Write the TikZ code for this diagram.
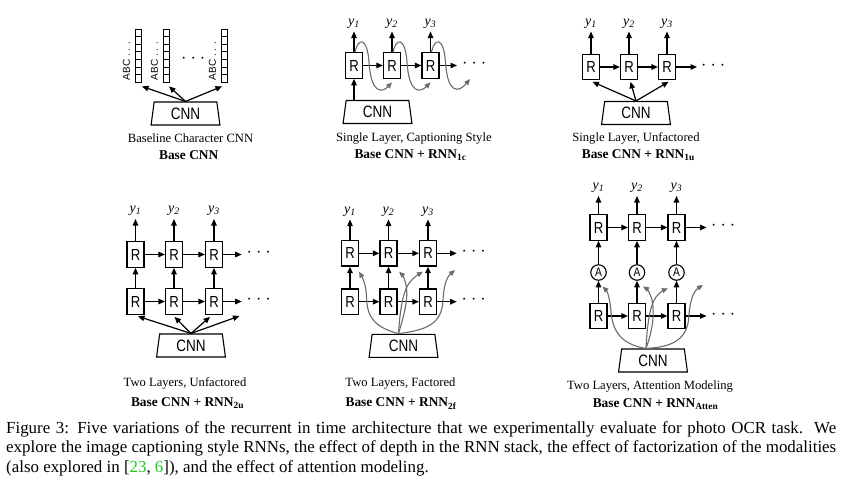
\documentclass[tikz,border=0pt]{standalone}
\usepackage{fontspec}
\setmainfont{Liberation Serif}
\setsansfont{Liberation Sans}
\usetikzlibrary{arrows.meta,shapes.geometric,calc}
\definecolor{refgreen}{RGB}{30,200,30}
\newcommand{\narrowtxt}[1]{\scalebox{0.82}[1]{#1}}
\newcommand{\ylab}[1]{\textit{y}\textsubscript{\textit{#1}}}
\begin{document}
\begin{tikzpicture}[x=1pt,y=-1pt,
  blkarrow/.style={line width=1.2pt, -{Triangle[length=6.5pt,width=5.5pt]}},
  grayarrow/.style={line width=1.1pt, black!58, -{Triangle[length=6pt,width=5pt]}},
  rbox/.style={draw, line width=1.2pt, minimum width=17pt, minimum height=25.5pt, inner sep=0pt, font=\sffamily\fontsize{16}{16}\selectfont},
  attnode/.style={draw, circle, line width=1.1pt, minimum size=15.5pt, inner sep=0pt, font=\sffamily\fontsize{12.5}{12.5}\selectfont},
  cnnbox/.style={draw, trapezium, trapezium angle=83, trapezium stretches=true, minimum width=69pt, minimum height=23pt, line width=1.1pt, inner sep=0pt, font=\sffamily\fontsize{16.5}{16.5}\selectfont},
  ylabnode/.style={inner sep=0pt, anchor=south, font=\fontsize{14}{14}\selectfont},
  dotsnode/.style={inner sep=0pt, anchor=west, font=\fontsize{16}{16}\selectfont},
  captxt/.style={inner sep=0pt, font=\fontsize{12.6}{14}\selectfont},
  captxtb/.style={inner sep=0pt, font=\bfseries\fontsize{13.4}{15}\selectfont},
  abclab/.style={rotate=90, inner sep=0pt, font=\sffamily\fontsize{10}{10}\selectfont},
]
\useasboundingbox[fill=white] (0,0) rectangle (845,491);

% ---------------- Panel 1: Baseline Character CNN
\foreach \cx/\nm in {138.5/c1, 166.5/c2, 224.5/c3} {
  \node[inner sep=0pt, minimum width=5.5pt, minimum height=53.2pt] (\nm) at (\cx, 55.6) {};
  \foreach \k in {0,...,6} \draw[line width=0.9pt] (\cx-2.75, 29+\k*7.6) rectangle ++(5.5,7.6);
  \node[abclab] (\nm lab) at (\cx-12, 61) {ABC . . .};
}
\node[dotsnode] (p1dots) at (181,60) {· · ·};
\node[cnnbox] (cnn1) at (185.5,113.5) {\narrowtxt{CNN}};
\draw[blkarrow] (cnn1.north) -- ($(c1.south)+(3.5,4)$);
\draw[blkarrow] (cnn1.north) -- ($(c2.south)+(2.5,4)$);
\draw[blkarrow] (cnn1.north) -- ($(c3.south)+(-2.5,4)$);
\node[captxt] (cap1) at (190.5,138) {Baseline Character CNN};
\node[captxtb] (capb1) at (188.7,155) {Base CNN};

% ---------------- Panel 2: Captioning style
\foreach \x/\i in {354/1, 392/2, 430.5/3} {
  \node[rbox] (r2\i) at (\x,65.5) {\narrowtxt{R}};
  \node[ylabnode] (y2\i) at (\x,28.5) {\ylab{\i}};
  \draw[blkarrow, shorten >=3pt] (r2\i.north) -- (y2\i.south);
}
\draw[blkarrow] (r21) -- (r22);
\draw[blkarrow] (r22) -- (r23);
\coordinate (e2) at (457,65.5);
\draw[blkarrow] (r23) -- (e2);
\node[dotsnode] (d2) at (462,65.5) {· · ·};
\node[cnnbox] (cnn2) at (377.5,112) {\narrowtxt{CNN}};
\draw[blkarrow] (cnn2.north -| r21.south) -- (r21.south);
\foreach \x/\b in {354/r22, 392/r23} {
  \draw[grayarrow] (\x+1,52) .. controls (\x+4,38) and (\x+13,36) .. (\x+15,62)
     .. controls (\x+17,94) and (\x+28,93) .. ($(\b.south)+(0,3.5)$);
}
\coordinate (f2) at (470,79);
\draw[grayarrow] (431.5,52) .. controls (434.5,38) and (443.5,36) .. (445.5,62)
     .. controls (447.5,94) and (458.5,93) .. (f2);
\node[captxt] (cap2) at (413.8,138) {Single Layer, Captioning Style};
\node[captxtb] (capb2) at (410.5,155) {Base CNN + RNN\textsubscript{1c}};

% ---------------- Panel 3: Single layer, unfactored
\foreach \x/\i in {591/1, 629/2, 667/3} {
  \node[rbox] (r3\i) at (\x,67) {\narrowtxt{R}};
  \node[ylabnode] (y3\i) at (\x,28.5) {\ylab{\i}};
  \draw[blkarrow, shorten >=3pt] (r3\i.north) -- (y3\i.south);
}
\draw[blkarrow] (r31) -- (r32);
\draw[blkarrow] (r32) -- (r33);
\coordinate (e3) at (697,67);
\draw[blkarrow] (r33) -- (e3);
\node[dotsnode] (d3) at (701,67) {· · ·};
\node[cnnbox] (cnn3) at (636,113) {\narrowtxt{CNN}};
\foreach \i in {1,2,3} \draw[blkarrow] (cnn3.north) -- ($(r3\i.south)+(1.5,1.5)$);
\node[captxt] (cap3) at (636,138) {Single Layer, Unfactored};
\node[captxtb] (capb3) at (638.3,155) {Base CNN + RNN\textsubscript{1u}};

% ---------------- Panel 4: Two layers, unfactored
\foreach \x/\i in {135.5/1, 174/2, 214/3} {
  \node[rbox] (t4\i) at (\x,254.5) {\narrowtxt{R}};
  \node[rbox] (b4\i) at (\x,301.5) {\narrowtxt{R}};
  \node[ylabnode] (y4\i) at (\x,216) {\ylab{\i}};
  \draw[blkarrow, shorten >=3pt] (t4\i.north) -- (y4\i.south);
  \draw[blkarrow] (b4\i.north) -- (t4\i.south);
}
\draw[blkarrow] (t41) -- (t42);
\draw[blkarrow] (t42) -- (t43);
\draw[blkarrow] (b41) -- (b42);
\draw[blkarrow] (b42) -- (b43);
\coordinate (e4t) at (241.7,254.5);
\coordinate (e4b) at (241.7,301.5);
\draw[blkarrow] (t43) -- (e4t);
\draw[blkarrow] (b43) -- (e4b);
\node[dotsnode] (d4t) at (246.5,254.5) {· · ·};
\node[dotsnode] (d4b) at (246.5,301.5) {· · ·};
\node[cnnbox] (cnn4) at (191,345.5) {\narrowtxt{CNN}};
\coordinate (f4) at (239.5,316);
\draw[blkarrow] (cnn4.north) -- ($(b41.south)+(2.5,1.5)$);
\draw[blkarrow] (cnn4.north) -- ($(b42.south)+(0.5,2)$);
\draw[blkarrow] (cnn4.north) -- ($(b43.south)+(-4,2)$);
\draw[blkarrow] (cnn4.north) -- (f4);
\node[captxt] (cap4) at (185,383.5) {Two Layers, Unfactored};
\node[captxtb] (capb4) at (187.5,403.5) {Base CNN + RNN\textsubscript{2u}};

% ---------------- Panel 5: Two layers, factored
\foreach \x/\i in {350/1, 388.5/2, 428/3} {
  \node[rbox] (t5\i) at (\x,253.3) {\narrowtxt{R}};
  \node[rbox] (b5\i) at (\x,301.7) {\narrowtxt{R}};
  \node[ylabnode] (y5\i) at (\x,216.5) {\ylab{\i}};
  \draw[blkarrow, shorten >=3pt] (t5\i.north) -- (y5\i.south);
  \draw[blkarrow] (b5\i.north) -- (t5\i.south);
}
\draw[blkarrow] (t51) -- (t52);
\draw[blkarrow] (t52) -- (t53);
\draw[blkarrow] (b51) -- (b52);
\draw[blkarrow] (b52) -- (b53);
\coordinate (e5t) at (456.7,253.3);
\coordinate (e5b) at (456.7,301.7);
\draw[blkarrow] (t53) -- (e5t);
\draw[blkarrow] (b53) -- (e5b);
\node[dotsnode] (d5t) at (461.5,253.3) {· · ·};
\node[dotsnode] (d5b) at (461.5,301.7) {· · ·};
\node[cnnbox] (cnn5) at (403.5,345.8) {\narrowtxt{CNN}};
\coordinate (s5) at ($(cnn5.north)+(-5,0)$);
\coordinate (f5) at (455,270);
\draw[grayarrow] (s5) .. controls (375,327) and (367,318) .. (366.5,297)
   .. controls (366,283) and (362,277) .. ($(t51.south east)+(0,5)$);
\draw[grayarrow] (s5) .. controls (404,315) and (408,300) .. (406.5,288)
   .. controls (405.5,280) and (402.5,275) .. ($(t52.south east)+(1.5,5)$);
\draw[grayarrow] (s5) .. controls (400,310) and (403,290) .. (410,282)
   .. controls (414,277) and (419,274) .. ($(t53.south west)+(4,5)$);
\draw[grayarrow] (s5) .. controls (425,330) and (442,325) .. (443,300)
   .. controls (444,282) and (448,276) .. (f5);
\node[captxt] (cap5) at (400.5,383.5) {Two Layers, Factored};
\node[captxtb] (capb5) at (401,403.5) {Base CNN + RNN\textsubscript{2f}};

% ---------------- Panel 6: Attention
\foreach \x/\i in {598.5/1, 637/2, 676.5/3} {
  \node[rbox] (t6\i) at (\x,227.5) {\narrowtxt{R}};
  \node[attnode] (a6\i) at (\x,272.5) {\narrowtxt{A}};
  \node[rbox] (b6\i) at (\x,316) {\narrowtxt{R}};
  \node[ylabnode] (y6\i) at (\x,193) {\ylab{\i}};
  \draw[blkarrow, shorten >=3pt] (t6\i.north) -- (y6\i.south);
  \draw[blkarrow] (a6\i.north) -- (t6\i.south);
  \draw[blkarrow] (b6\i.north) -- (a6\i.south);
}
\draw[blkarrow] (t61) -- (t62);
\draw[blkarrow] (t62) -- (t63);
\draw[blkarrow] (b61) -- (b62);
\draw[blkarrow] (b62) -- (b63);
\coordinate (e6t) at (706.5,227.5);
\coordinate (e6b) at (706.5,316);
\draw[blkarrow] (t63) -- (e6t);
\draw[blkarrow] (b63) -- (e6b);
\node[dotsnode] (d6t) at (711,227.5) {· · ·};
\node[dotsnode] (d6b) at (711,316) {· · ·};
\node[cnnbox] (cnn6) at (653,360.5) {\narrowtxt{CNN}};
\coordinate (s6) at ($(cnn6.north)+(-7,0)$);
\coordinate (f6) at (703,285);
\draw[grayarrow] (s6) .. controls (625,345) and (613,335) .. (611,312)
   .. controls (610,298) and (607,291) .. ($(a61)+(4,14)$);
\draw[grayarrow] (s6) .. controls (652,332) and (655,315) .. (652,300)
   .. controls (650,293) and (647,289) .. ($(a62)+(6,14)$);
\draw[grayarrow] (s6) .. controls (647,325) and (650,305) .. (656,297)
   .. controls (660,292) and (664,290) .. ($(a63)+(-8.5,16)$);
\draw[grayarrow] (s6) .. controls (672,347) and (688,340) .. (689,315)
   .. controls (690,298) and (695,290) .. (f6);
\node[captxt] (cap6) at (650,386.5) {Two Layers, Attention Modeling};
\node[captxtb] (capb6) at (655.5,404) {Base CNN + RNN\textsubscript{Atten}};

% ---------------- Figure caption
\node[anchor=north west, inner sep=0pt, text width=830pt, align=justify,
      font=\fontsize{16.9}{19.5}\selectfont] (figcap) at (6,421)
 {Figure 3: Five variations of the recurrent in time architecture that we experimentally evaluate for photo OCR task.\ \ We\linebreak
  explore the image captioning style RNNs, the effect of depth in the RNN stack, the effect of factorization of the modalities\linebreak
  (also explored in [\textcolor{refgreen}{23}, \textcolor{refgreen}{6}]), and the effect of attention modeling.};
\end{tikzpicture}
\end{document}
